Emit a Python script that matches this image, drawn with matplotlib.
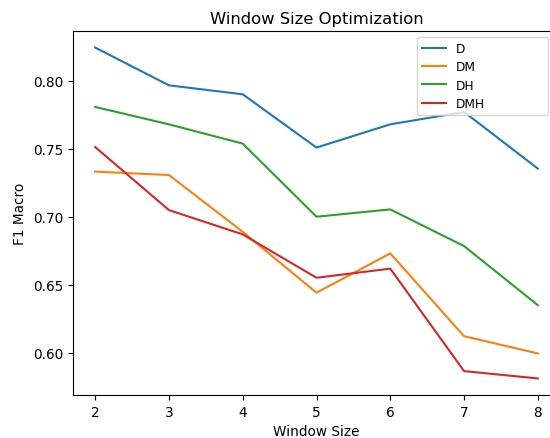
import matplotlib
matplotlib.use("Agg")
import matplotlib.pyplot as plt

window_sizes = [2, 3, 4, 5, 6, 7, 8]

f1_d = [0.8246, 0.7968, 0.7902, 0.7510, 0.7681, 0.7772, 0.7355]
f1_dm = [0.7333, 0.7308, 0.6890, 0.6442, 0.6731, 0.6122, 0.5995]
f1_dh = [0.7809, 0.7681, 0.7539, 0.7001, 0.7055, 0.6785, 0.6350]
f1_dmh = [0.7514, 0.7050, 0.6871, 0.6552, 0.6619, 0.5865, 0.5811]

series = {"D": f1_d, "DM": f1_dm, "DH": f1_dh, "DMH": f1_dmh}

plt.rcParams["font.size"] = 9.8

W, H = 550, 439
fig = plt.figure(figsize=(W / 100, H / 100), dpi=100)
# axes run past the right edge of the canvas
ax = fig.add_axes([73 / W, 1 - 396 / H, 487 / W, 364 / H])

for name, vals in series.items():
    ax.plot(window_sizes, vals, label=name)

ax.set_title("Window Size Optimization", fontsize=11.8)
ax.set_xlabel("Window Size")
ax.set_ylabel("F1 Macro")
ax.legend(loc="upper left", mode="expand", fontsize=8.7,
          bbox_to_anchor=(417 / W, 1 - 38 / H, 131 / W, 0),
          bbox_transform=fig.transFigure, borderaxespad=0,
          labelspacing=0.45)

fig.savefig("out.png", dpi=100)
